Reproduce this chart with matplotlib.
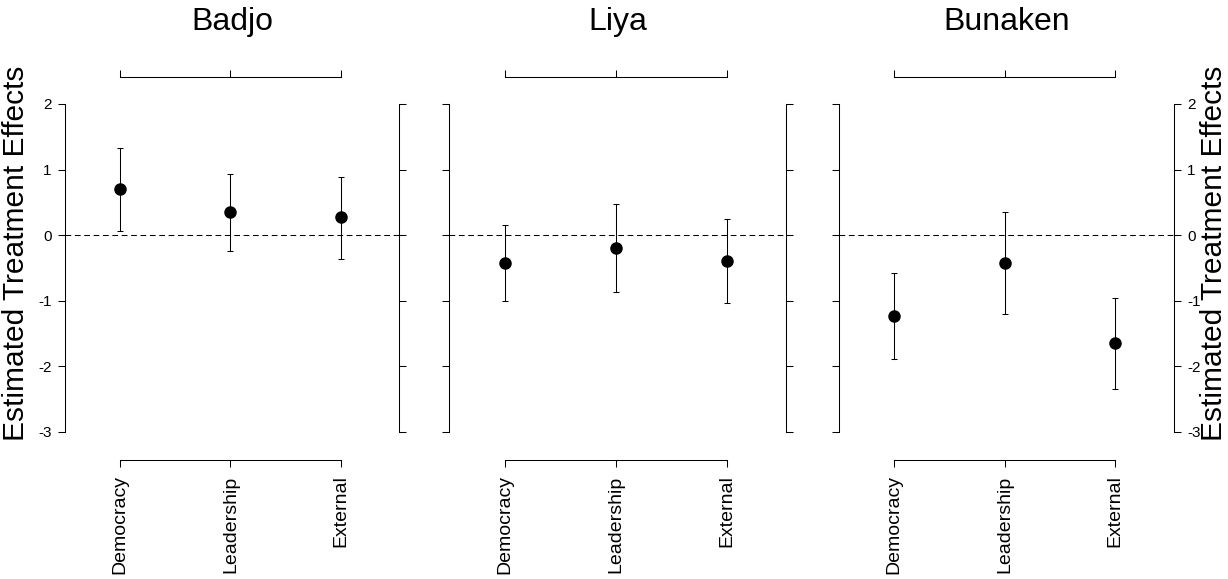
import matplotlib.pyplot as plt
import numpy as np

plt.rcParams['font.family'] = ['Liberation Sans', 'DejaVu Sans']
plt.rcParams['axes.unicode_minus'] = False

sites = ["Badjo", "Liya", "Bunaken"]
treatments = ["Democracy", "Leadership", "External"]

# point estimates and 95% interval ends, one list per site
badjo_est = [0.71, 0.36, 0.27]
badjo_lo = [0.07, -0.24, -0.37]
badjo_hi = [1.33, 0.94, 0.89]

liya_est = [-0.42, -0.20, -0.39]
liya_lo = [-1.01, -0.86, -1.04]
liya_hi = [0.15, 0.47, 0.25]

bunaken_est = [-1.23, -0.43, -1.65]
bunaken_lo = [-1.89, -1.20, -2.35]
bunaken_hi = [-0.57, 0.35, -0.96]

yticks = [2, 1, 0, -1, -2, -3]

est = [badjo_est, liya_est, bunaken_est]
lo = [badjo_lo, liya_lo, bunaken_lo]
hi = [badjo_hi, liya_hi, bunaken_hi]

W, H = 1228, 579
fig = plt.figure(figsize=(W / 100, H / 100), dpi=100)

lefts = [65, 449.3, 838.7]
rights = [399.3, 786, 1174]
top_px, bot_px = 76.5, 460

x = np.arange(1, 4)
for i in range(3):
    ax = fig.add_axes([lefts[i] / W, 1 - bot_px / H,
                       (rights[i] - lefts[i]) / W, (bot_px - top_px) / H])
    e = np.array(est[i])
    l = np.array(lo[i])
    h = np.array(hi[i])
    ax.axhline(0, color='black', lw=0.75, ls=(0, (5.5, 3.5)), zorder=1)
    ax.errorbar(x, e, yerr=[e - l, h - e], fmt='o', color='black', ms=8,
                elinewidth=0.75, capsize=2.5, capthick=0.75, zorder=3)
    ax.set_xlim(0.5, 3.53)
    ax.set_ylim(-3.427, 2.419)

    ax.spines['left'].set_bounds(-3, 2)
    ax.spines['right'].set_bounds(-3, 2)
    ax.spines['top'].set_bounds(1, 3)
    ax.spines['bottom'].set_bounds(1, 3)
    for s in ax.spines.values():
        s.set_linewidth(0.75)

    ax.set_yticks(yticks)
    ax.set_xticks(x)
    ax.set_xticklabels(treatments, rotation=90, fontsize=14)
    ax.tick_params(axis='both', direction='out', length=5, width=0.75)
    ax.tick_params(axis='y', left=True, right=True, labelsize=11, pad=4.5,
                   labelleft=(i == 0), labelright=(i == 2))
    ax.tick_params(axis='x', top=True, bottom=True, labeltop=False, pad=6)

    fig.text((lefts[i] + rights[i]) / 2 / W, 1 - 30 / H, sites[i],
             fontsize=23, ha='center', va='baseline')

fig.text(16 / W, 1 - 253 / H, "Estimated Treatment Effects", fontsize=21.5,
         rotation=90, ha='center', va='center')
fig.text(1214 / W, 1 - 253 / H, "Estimated Treatment Effects", fontsize=21.5,
         rotation=90, ha='center', va='center')

plt.savefig("out.png", dpi=100)
